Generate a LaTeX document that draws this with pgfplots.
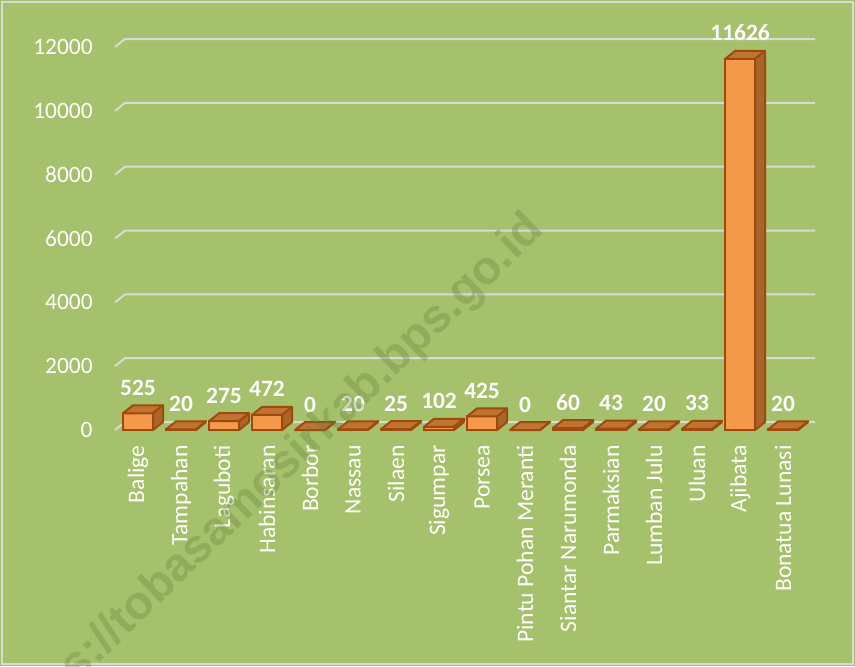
\documentclass[border=0pt]{standalone}
\usepackage{fontspec}
\setmainfont{Carlito}
\newfontfamily\wmfont{Liberation Sans}
\usepackage{pgfplots}
\usepackage{pgfplotstable}
\pgfplotsset{compat=1.18}

\definecolor{bgc}{RGB}{165,193,107}
\definecolor{bordc}{RGB}{217,217,217}
\definecolor{gridc}{RGB}{217,217,217}
\definecolor{frontc}{RGB}{244,152,74}
\definecolor{topc}{RGB}{192,116,50}
\definecolor{sidec}{RGB}{168,101,44}
\definecolor{edgec}{RGB}{158,74,12}
\definecolor{wmc}{RGB}{100,128,64}

% Kecamatan, nilai
\pgfplotstableread{
i v
0 525
1 20
2 275
3 472
4 0
5 20
6 25
7 102
8 425
9 0
10 60
11 43
12 20
13 33
14 11626
15 20
}\datatable

\pgfdeclareplotmark{blank}{}

\begin{document}
\begin{tikzpicture}
\path[use as bounding box, fill=bgc] (0,0) rectangle (427.5pt,333pt);
\draw[bordc, line width=1pt] (1pt,1pt) rectangle (426.5pt,332pt);
\begin{axis}[
    at={(57.5pt,118pt)}, anchor=south west,
    scale only axis, width=345pt, height=191.5pt,
    xmin=-0.535, xmax=15.51, ymin=0, ymax=12000,
    clip=false,
    axis line style={draw=none},
    major tick length=0pt,
    scaled y ticks=false,
    ytick={0,2000,4000,6000,8000,10000,12000},
    yticklabel style={text=white, font=\fontsize{11.7}{12}\selectfont,
        inner sep=0pt, xshift=-11pt},
    xtick={0,...,15},
    xticklabels={Balige, Tampahan, Laguboti, Habinsaran, Borbor, Nassau,
        Silaen, Sigumpar, Porsea, Pintu Pohan Meranti, Siantar Narumonda,
        Parmaksian, Lumban Julu, Uluan, Ajibata, Bonatua Lunasi},
    xticklabel style={text=white, font=\fontsize{11.8}{12}\selectfont,
        inner sep=0pt, yshift=-7.5pt, rotate=90, anchor=east},
    /pgf/number format/1000 sep={},
    /pgf/number format/assume math mode=true,
]
% back wall grid with the little side-wall step
\pgfplotsinvokeforeach{0,2000,4000,6000,8000,10000,12000}{
  \draw[gridc, line width=1pt]
    (axis cs:-0.535,#1) -- ++(5pt,4pt) -- ([xshift=5pt,yshift=4pt]axis cs:15.51,#1);
}
% front faces
\addplot[ybar, bar width=15pt, fill=frontc, draw=edgec, line width=1pt,
    nodes near coords,
    every node near coord/.append style={text=white,
        font=\fontsize{11.7}{12}\selectfont\bfseries,
        inner sep=0pt, anchor=base, yshift=9pt}]
    table[x=i, y=v] {\datatable};
% top and side faces
\addplot[scatter, only marks, mark=blank,
    visualization depends on={rawy \as \rawy},
    scatter/@pre marker code/.code={
      \draw[fill=topc, draw=edgec, line width=1pt, line join=round]
        (-7.5pt,0pt) -- (7.5pt,0pt) -- (12.5pt,4pt) -- (-2.5pt,4pt) -- cycle;
      \draw[fill=sidec, draw=edgec, line width=1pt, line join=round]
        (7.5pt,0pt) -- (12.5pt,4pt) -- ++(axis direction cs:0,-\rawy)
        -- ++(-5pt,-4pt) -- cycle;
    },
    scatter/@post marker code/.code={}]
    table[x=i, y=v] {\datatable};
\end{axis}
\begin{scope}
\clip (0,0) rectangle (427.5pt,333pt);
\node[rotate=44, text=wmc, opacity=0.33, font=\wmfont\bfseries\fontsize{23.5}{24}\selectfont]
  at (135.5pt,93pt) {https://tobasamosirkab.bps.go.id};
\end{scope}
\end{tikzpicture}
\end{document}
